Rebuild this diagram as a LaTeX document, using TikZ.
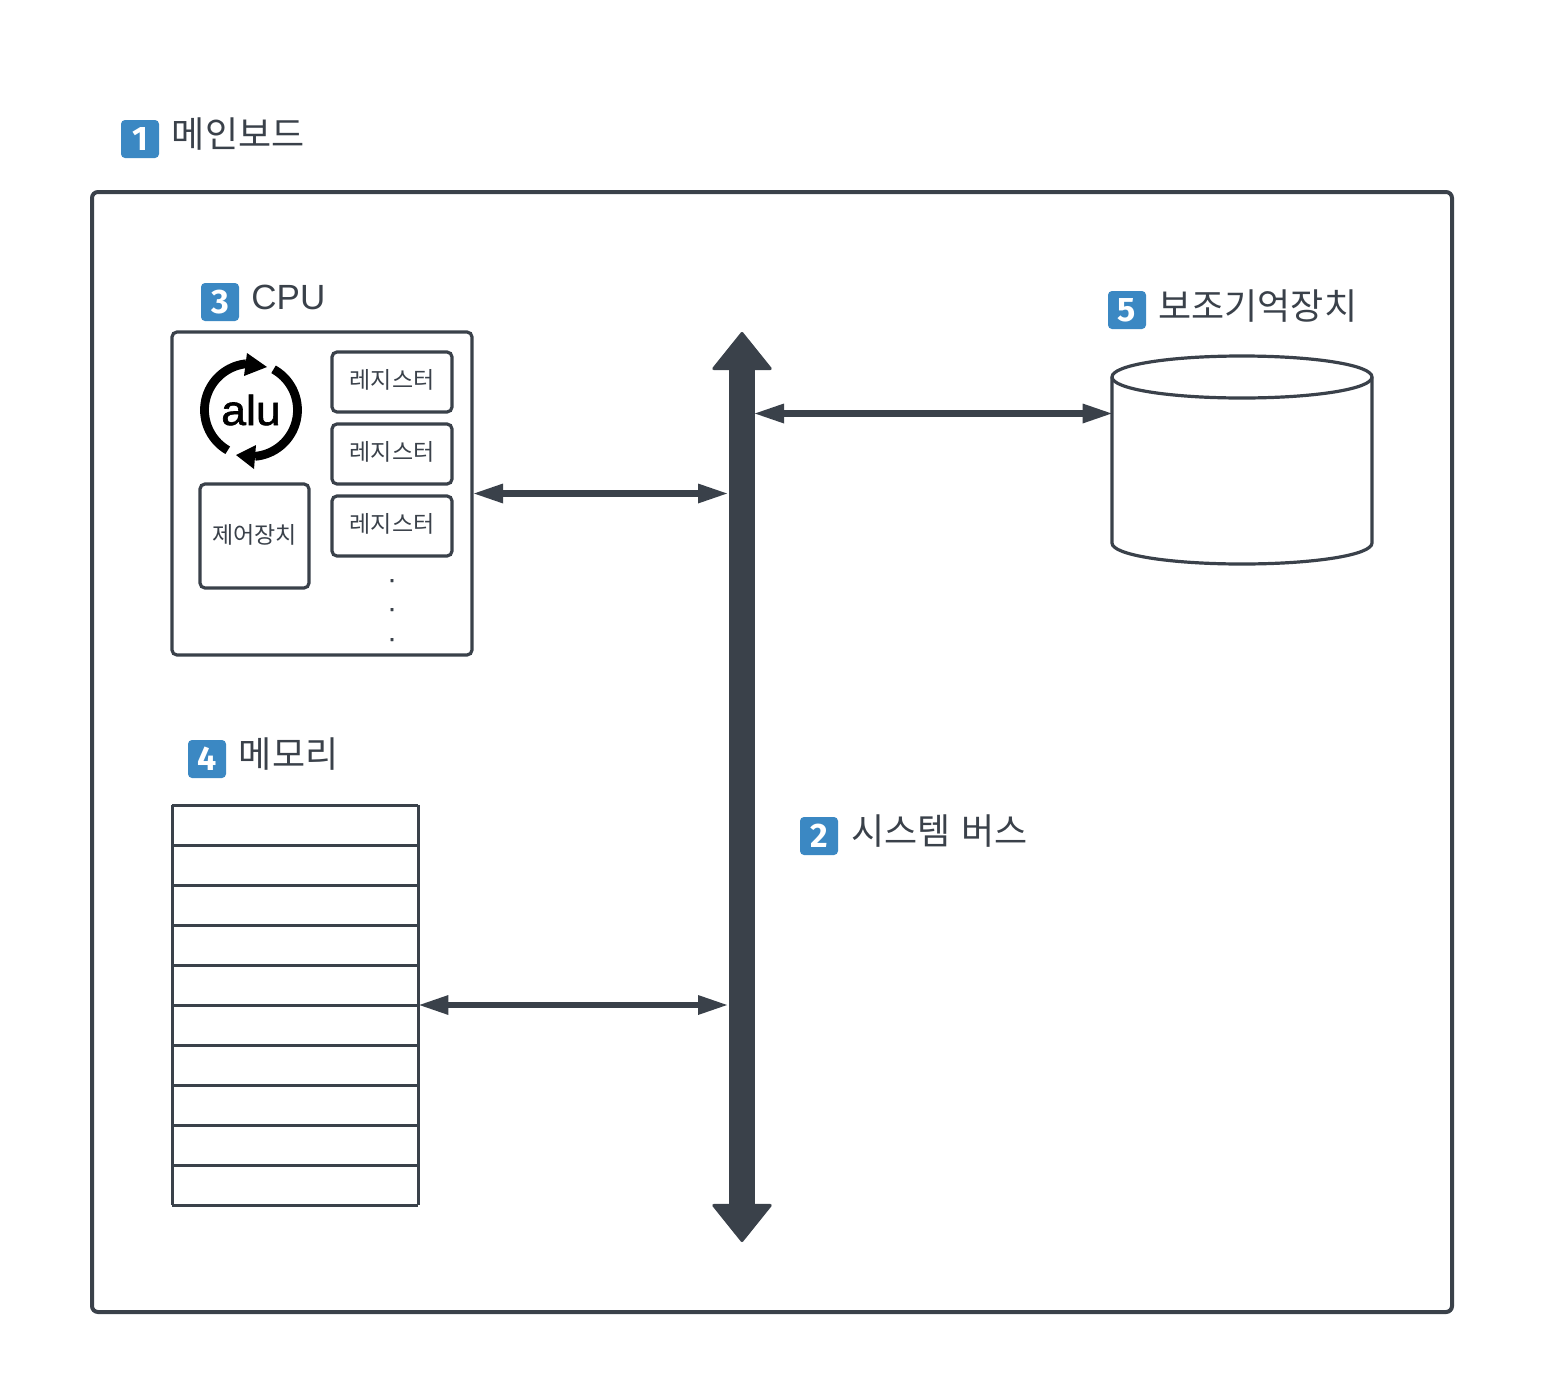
\documentclass[tikz,border=0pt]{standalone}
\usepackage{fontspec}
\setmainfont{Liberation Sans}
\newfontfamily\kr{Noto Sans CJK KR}
\newfontfamily\badgefont{Fira Sans}
\newfontfamily\alufont[FakeBold=1.5,FakeStretch=1.06]{Liberation Sans}
\newfontfamily\dotfont[FakeBold=1.5]{Liberation Sans}
\usetikzlibrary{arrows.meta}
\definecolor{ink}{HTML}{3A414A}
\definecolor{badgeblue}{HTML}{3B88C3}
\tikzset{
  x=0.5pt,y=-0.5pt,
  frame/.style={draw=ink,line width=2pt,rounded corners=3pt,fill=white,inner sep=0pt},
  cpubox/.style={draw=ink,line width=1.6pt,rounded corners=2.5pt,inner sep=0pt},
  regbox/.style={draw=ink,line width=1.6pt,rounded corners=2.5pt,inner sep=0pt,minimum width=60pt,minimum height=30pt,text=ink,font=\kr\fontsize{11.5}{12}\selectfont},
  title/.style={anchor=west,inner sep=0pt,text=ink,font=\kr\fontsize{18}{20}\selectfont},
  badge/.style={fill=badgeblue,rounded corners=2pt,minimum size=19pt,inner sep=0pt,text=white,font=\badgefont\bfseries\fontsize{17}{18}\selectfont},
  rowline/.style={draw=ink,line width=1.5pt},
  busarrow/.style={draw=ink,line width=13pt,{Triangle[length=19.5pt,width=31pt,line width=1.5pt,round]}-{Triangle[length=19.5pt,width=31pt,line width=1.5pt,round]},fill=ink},
  linkarrow/.style={draw=ink,line width=3.3pt,{Triangle[length=14.5pt,width=10pt,line width=0pt]}-{Triangle[length=14.5pt,width=10pt,line width=0pt]}},
  aluring/.style={draw=black,line width=4.4pt},
  regdot/.style={anchor=base,inner sep=0pt,text=ink,font=\dotfont\fontsize{13}{13}\selectfont},
}
\begin{document}
\begin{tikzpicture}
\useasboundingbox (0,0) rectangle (1544,1398);
\fill[white] (0,0) rectangle (1544,1398);
% main board
\node[frame,minimum width=680pt,minimum height=560pt] (board) at (772,752) {};
\node[badge] (b1) at (140,139) {1};
\node[title] (t1) at (171.5,134) {메인보드};
% cpu
\node[cpubox,minimum width=150pt,minimum height=161.5pt] (cpu) at (322,493.5) {};
\node[badge] (b3) at (220,302) {3};
\node[title,font=\fontsize{17.5}{20}\selectfont] (t3) at (251,297) {CPU};
\node[regbox] (r1) at (392,382) {\raisebox{3pt}{레지스터}};
\node[regbox] (r2) at (392,454) {\raisebox{3pt}{레지스터}};
\node[regbox] (r3) at (392,526) {\raisebox{3pt}{레지스터}};
\node[regbox,minimum width=54.5pt,minimum height=52pt] (ctl) at (254.5,536) {\raisebox{2pt}{제어장치}};
\node[regdot] (d1) at (392,582) {.};
\node[regdot] (d2) at (392,611) {.};
\node[regdot] (d3) at (392,641) {.};
% alu icon
\node[inner sep=0pt,text=black,font=\alufont\fontsize{21}{22}\selectfont] (alu) at (251,410) {alu};
\draw[aluring] plot[domain=240:96,samples=40] ({251+46.5*cos(\x)},{410-46.5*sin(\x)});
\draw[aluring] plot[domain=61:-85,samples=40] ({251+46.5*cos(\x)},{410-46.5*sin(\x)});
\fill[black] (267,367) -- (247,353) -- (244,376) -- cycle;
\fill[black] (236,455) -- (256,445) -- (254,469) -- cycle;
% memory
\node[minimum width=123pt,minimum height=200pt,inner sep=0pt] (mem) at (295,1005) {};
\foreach \r in {805,845,...,1205} \draw[rowline] (172,\r) -- (418,\r);
\draw[rowline] (172.5,805) -- (172.5,1205);
\draw[rowline] (418,805) -- (418,1205);
\node[badge] (b4) at (207,759) {4};
\node[title] (t4) at (238.5,754) {메모리};
% disk
\node[minimum width=130pt,minimum height=104pt,inner sep=0pt] (disk) at (1242,460) {};
\draw[draw=ink,line width=1.6pt,fill=white]
  (1112,377) .. controls (1112,365) and (1170,356) .. (1242,356)
  .. controls (1314,356) and (1372,365) .. (1372,377)
  -- (1372,543) .. controls (1372,555) and (1314,564) .. (1242,564)
  .. controls (1170,564) and (1112,555) .. (1112,543) -- cycle;
\draw[draw=ink,line width=1.6pt]
  (1112,377) .. controls (1112,389) and (1170,398) .. (1242,398)
  .. controls (1314,398) and (1372,389) .. (1372,377);
\node[badge] (b5) at (1127,310) {5};
\node[title] (t5) at (1158,306) {보조기억장치};
% bus
\coordinate (bustop) at (742,332);
\coordinate (busbot) at (742,1242);
\coordinate (busa) at (727,493.5);
\coordinate (busb) at (727,1005);
\coordinate (busc) at (755,413.5);
\draw[busarrow] (bustop) -- (busbot);
\node[badge] (b2) at (819,836) {2};
\node[title] (t2) at (851,831) {시스템\hspace{1.5pt} 버스};
% links
\draw[linkarrow] (cpu.east) ++(0.5,0) coordinate (cpua) (cpua) -- (busa);
\draw[linkarrow] (busc) -- (busc -| disk.west);
\draw[linkarrow] (mem.east) ++(1,0) coordinate (mema) (mema) -- (busb);
\end{tikzpicture}
\end{document}
